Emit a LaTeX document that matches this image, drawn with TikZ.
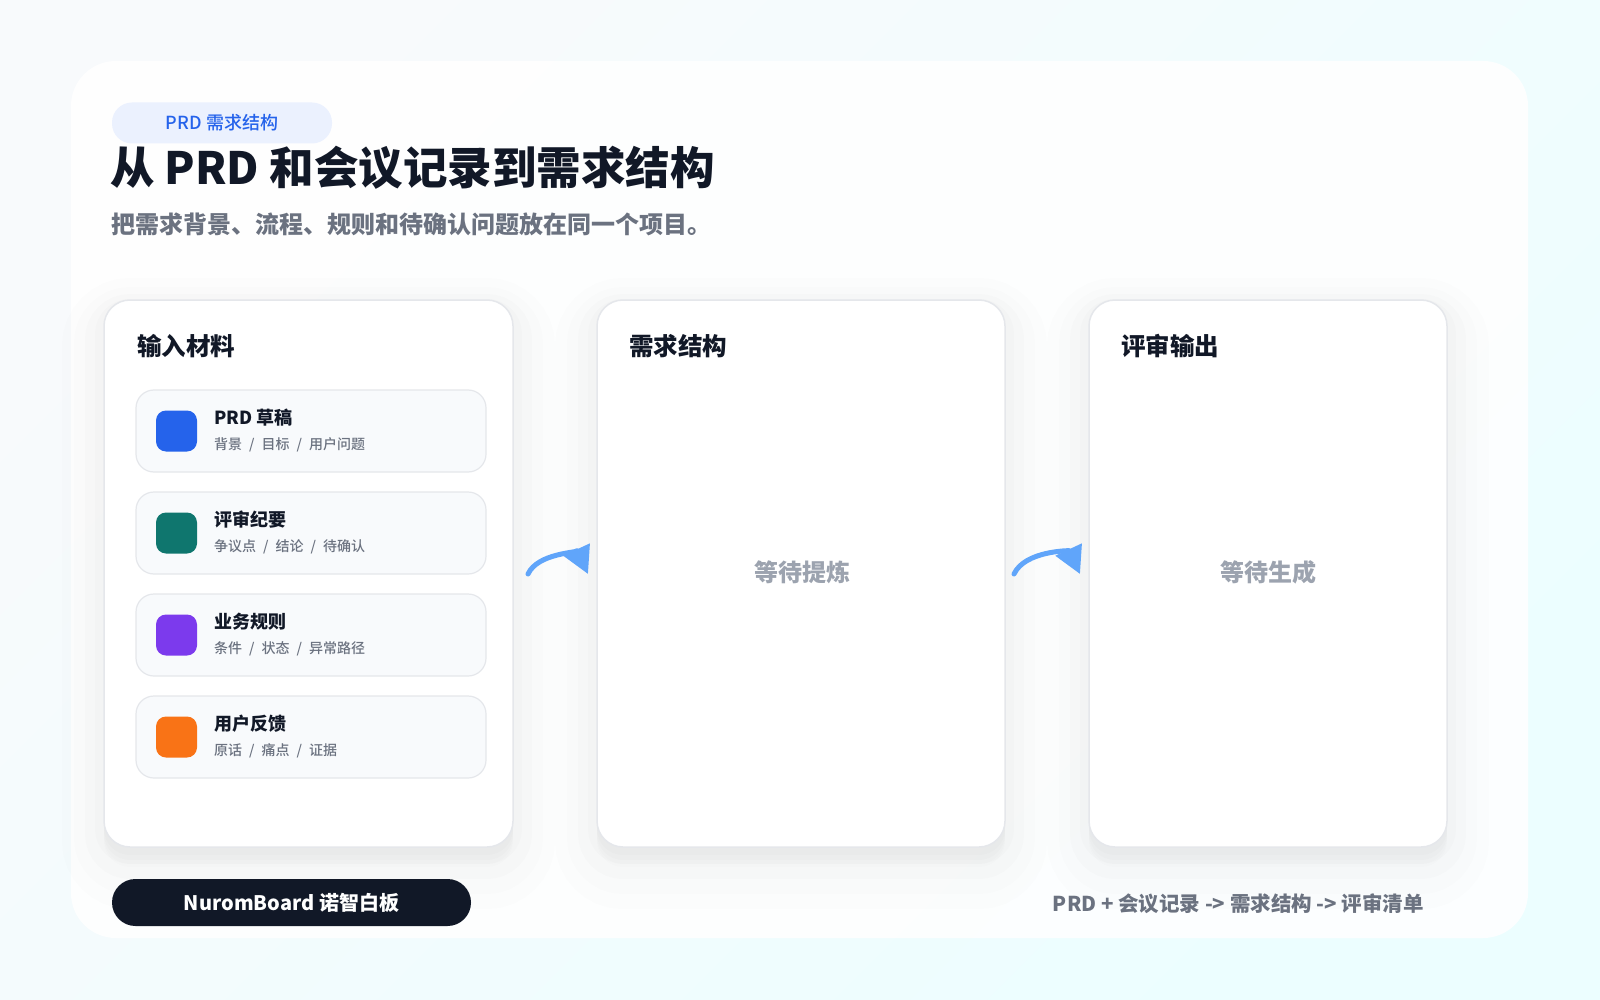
\documentclass[tikz,border=0pt]{standalone}
\usepackage{fontspec}
\setmainfont{Noto Sans CJK SC}
\newfontfamily\mediumfont{Noto Sans CJK SC Medium}
\usetikzlibrary{positioning,arrows.meta}

\definecolor{ink}{HTML}{111827}
\definecolor{muted}{HTML}{6B7280}
\definecolor{soft}{HTML}{9CA3AF}
\definecolor{line}{HTML}{E5E7EB}
\definecolor{itembg}{HTML}{F8FAFC}
\definecolor{tagbg}{HTML}{EBF1FE}
\definecolor{brand}{HTML}{2563EB}
\definecolor{teal}{HTML}{0F766E}
\definecolor{violet}{HTML}{7C3AED}
\definecolor{amber}{HTML}{F97316}
\definecolor{flowblue}{HTML}{60A5FA}
\definecolor{bgtop}{HTML}{F8FAFC}
\definecolor{bgbot}{HTML}{ECFEFF}
\definecolor{shadowink}{HTML}{1E293B}

\newcommand{\fs}[1]{\fontsize{#1}{#1}\selectfont}
\newcommand{\slsep}{\hspace{0.5em}/\hspace{0.5em}}

\begin{document}
\begin{tikzpicture}[x=1pt, y=-1pt,
    panel/.style={draw=line, line width=1.5pt, fill=white, rounded corners=26pt,
        minimum height=547pt, inner sep=0pt,
        preaction={draw=shadowink, fill=shadowink, opacity=0.008, line width=84pt, transform canvas={yshift=-20pt}},
        preaction={draw=shadowink, fill=shadowink, opacity=0.009, line width=60pt, transform canvas={yshift=-17pt}},
        preaction={draw=shadowink, fill=shadowink, opacity=0.01, line width=38pt, transform canvas={yshift=-13pt}},
        preaction={draw=shadowink, fill=shadowink, opacity=0.012, line width=18pt, transform canvas={yshift=-8pt}}},
    itembox/.style={draw=line, line width=1.2pt, fill=itembg, rounded corners=18pt,
        minimum width=350pt, minimum height=82pt, inner sep=0pt},
    icon/.style={minimum size=41pt, rounded corners=10pt, inner sep=0pt},
    heading/.style={anchor=west, inner sep=0pt, text=ink, font=\fs{24.5}\bfseries},
    itemtitle/.style={anchor=west, inner sep=0pt, text=ink, font=\fs{18}\bfseries},
    itemsub/.style={anchor=west, inner sep=0pt, text=muted, font=\fs{14}\mediumfont},
    waiting/.style={inner sep=0pt, text=soft, font=\fs{24}\bfseries},
    flow/.style={draw=flowblue, line width=5pt, line cap=round,
        -{Triangle[length=27pt, width=28pt]}}]
    \useasboundingbox (0,0) rectangle (1600,1000);
    \shade[top color=bgtop, bottom color=bgbot, shading angle=45] (0,0) rectangle (1600,1000);

    % outer card
    \fill[white, opacity=0.88, rounded corners=45pt] (71,61) rectangle (1528,938);

    % header
    \node[fill=tagbg, rounded corners=20pt, minimum width=220pt, minimum height=41pt,
        text=brand, font=\fs{18}\mediumfont] (tag) at (222,123) {PRD 需求结构};
    \node[anchor=west, inner sep=0pt, text=ink, font=\fs{44.5}\bfseries] (title) at (110,168)
        {从 PRD 和会议记录到需求结构};
    \node[anchor=west, inner sep=0pt, text=muted, font=\fs{24}\bfseries] (subtitle) at (111,224)
        {把需求背景、流程、规则和待确认问题放在同一个项目。};

    % panels
    \node[panel, minimum width=409pt] (inputpanel) at (308.5,573.5) {};
    \node[panel, minimum width=408pt] (structpanel) at (801,573.5) {};
    \node[panel, minimum width=358pt] (reviewpanel) at (1268,573.5) {};

    \node[heading] (inputhead) at (137,346) {输入材料};
    \node[heading] (structhead) at (629,346) {需求结构};
    \node[heading] (reviewhead) at (1121,346) {评审输出};

    % input items
    \node[itembox] (prd) at (311,431) {};
    \node[icon, fill=brand] (prdicon) at (176.5,431) {};
    \node[itemtitle] (prdtitle) at (214,418) {PRD 草稿};
    \node[itemsub] (prdsub) at (214,445) {背景\slsep 目标\slsep 用户问题};

    \node[itembox] (minutes) at (311,533) {};
    \node[icon, fill=teal] (minutesicon) at (176.5,533) {};
    \node[itemtitle] (minutestitle) at (214,520) {评审纪要};
    \node[itemsub] (minutessub) at (214,547) {争议点\slsep 结论\slsep 待确认};

    \node[itembox] (rules) at (311,635) {};
    \node[icon, fill=violet] (rulesicon) at (176.5,635) {};
    \node[itemtitle] (rulestitle) at (214,622) {业务规则};
    \node[itemsub] (rulessub) at (214,649) {条件\slsep 状态\slsep 异常路径};

    \node[itembox] (feedback) at (311,737) {};
    \node[icon, fill=amber] (feedbackicon) at (176.5,737) {};
    \node[itemtitle] (feedbacktitle) at (214,724) {用户反馈};
    \node[itemsub] (feedbacksub) at (214,751) {原话\slsep 痛点\slsep 证据};

    % placeholders
    \node[waiting] (structwait) at (802,572) {等待提炼};
    \node[waiting] (reviewwait) at (1268,572) {等待生成};

    % flow arrows
    \coordinate (flowa) at (528,574);
    \coordinate (flowb) at (588,574);
    \coordinate (flowc) at (1014,574);
    \coordinate (flowd) at (1080,574);
    \draw[flow] (flowa) to[bend left=65] (flowb);
    \draw[flow] (flowc) to[bend left=65] (flowd);

    % footer
    \node[fill=ink, rounded corners=23.5pt, minimum width=359pt, minimum height=47pt,
        text=white, font=\fs{20}\bfseries] (brandpill) at (291.5,902.5) {NuromBoard 诺智白板};
    \node[anchor=east, inner sep=0pt, text=muted, font=\fs{20.5}\bfseries] (pipeline) at (1424,904)
        {PRD + 会议记录 -> 需求结构 -> 评审清单};
\end{tikzpicture}
\end{document}
